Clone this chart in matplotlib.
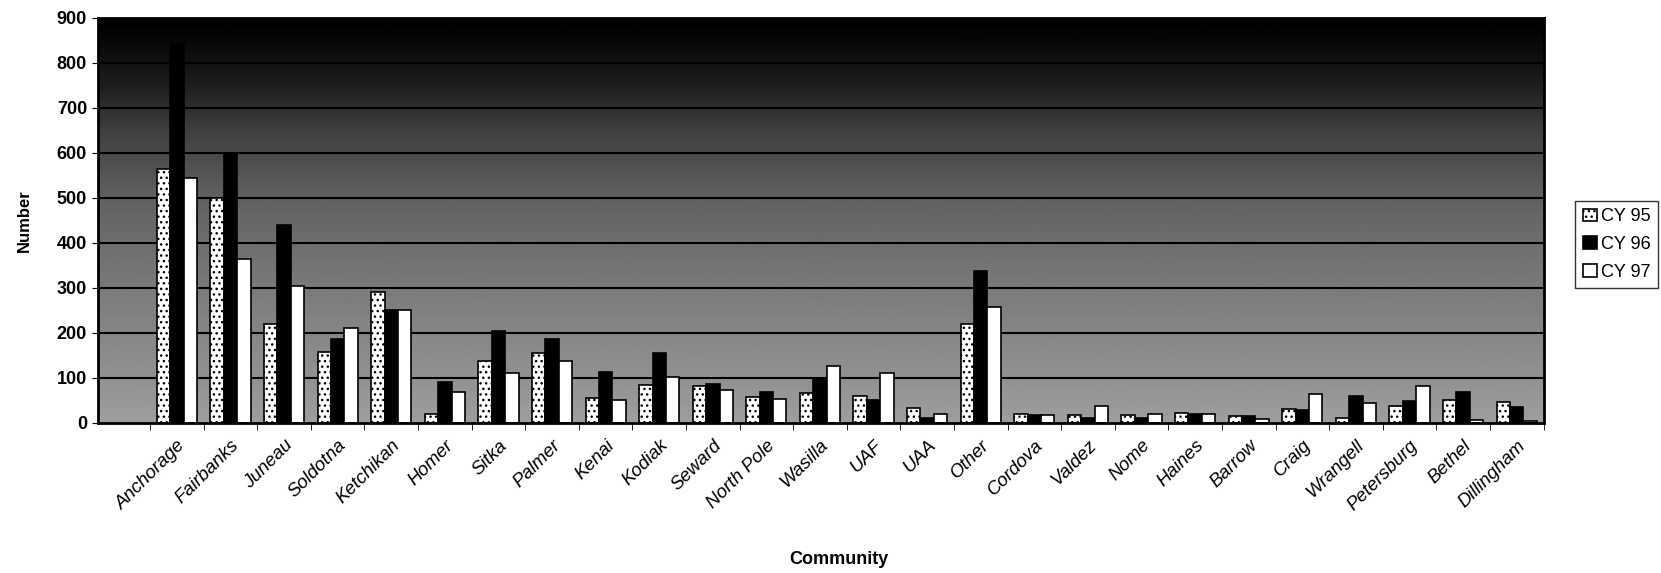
import matplotlib.pyplot as plt
import numpy as np

plt.rcParams["font.family"] = ["Liberation Sans", "DejaVu Sans"]

communities = ["Anchorage", "Fairbanks", "Juneau", "Soldotna", "Ketchikan", "Homer",
               "Sitka", "Palmer", "Kenai", "Kodiak", "Seward", "North Pole", "Wasilla",
               "UAF", "UAA", "Other", "Cordova", "Valdez", "Nome", "Haines", "Barrow",
               "Craig", "Wrangell", "Petersburg", "Bethel", "Dillingham"]
cy95 = [565, 500, 220, 158, 290, 21, 137, 155, 56, 85, 82, 57, 66, 60, 34, 220,
        20, 18, 18, 23, 15, 32, 12, 38, 51, 46]
cy96 = [842, 601, 440, 186, 252, 91, 205, 187, 113, 155, 87, 68, 101, 51, 12, 337,
        18, 12, 12, 19, 15, 29, 60, 48, 69, 35]
cy97 = [545, 364, 304, 211, 250, 68, 111, 137, 51, 103, 73, 53, 127, 112, 21, 258,
        18, 38, 21, 21, 8, 65, 45, 83, 6, 4]

fig = plt.figure(figsize=(16.61, 5.73), dpi=100)
ax = fig.add_axes([0.0587, 0.2618, 0.8706, 0.7068])

x = np.arange(len(communities))
xmin, xmax = -1.48, len(communities) - 0.51

# gradient plot area (scanned look), nearly black at the top
levels = np.linspace(0, 900, 256)
shade = np.interp(levels, [0, 100, 300, 500, 650, 750, 850, 900],
                  [0.62, 0.57, 0.48, 0.38, 0.25, 0.12, 0.03, 0.0])
ax.imshow(shade.reshape(-1, 1), extent=[xmin, xmax, 0, 900], aspect="auto",
          cmap="gray", vmin=0, vmax=1, origin="lower", zorder=0)

for y in range(100, 900, 100):
    ax.axhline(y, color="black", lw=1.5, zorder=1)

w = 0.25
ax.bar(x - w, cy95, w, color="white", edgecolor="black", hatch="...", lw=1.2,
       label="CY 95", zorder=2)
ax.bar(x, cy96, w, color="black", edgecolor="black", lw=1.2, label="CY 96", zorder=2)
ax.bar(x + w, cy97, w, color="white", edgecolor="black", lw=1.2, label="CY 97", zorder=2)

ax.set_xlim(xmin, xmax)
ax.set_ylim(0, 900)
ax.set_yticks(range(0, 901, 100))
ax.set_xticks(x)
ax.set_xticklabels(communities, rotation=45, ha="right", rotation_mode="anchor",
                   fontsize=13.5, style="italic")
ax.set_xticks(np.append(x[0] - 0.5, x + 0.5), minor=True)
ax.tick_params(axis="x", which="major", length=0, pad=10)
ax.tick_params(axis="x", which="minor", length=5)
ax.tick_params(axis="y", labelsize=13, length=4)
for lab in ax.get_yticklabels():
    lab.set_fontweight("bold")
for s in ax.spines.values():
    s.set_linewidth(2)

ax.set_ylabel("Number", fontsize=12, fontweight="bold", labelpad=18)
ax.set_xlabel("Community", fontsize=13, fontweight="bold")
ax.xaxis.set_label_coords(0.513, -0.315)

fig.legend(loc="upper left", bbox_to_anchor=(0.943, 0.665), fontsize=13,
           frameon=True, fancybox=False, edgecolor="black", handlelength=0.8,
           handletextpad=0.2, borderpad=0.4, labelspacing=0.6)

fig.savefig("out.png", dpi=100)
